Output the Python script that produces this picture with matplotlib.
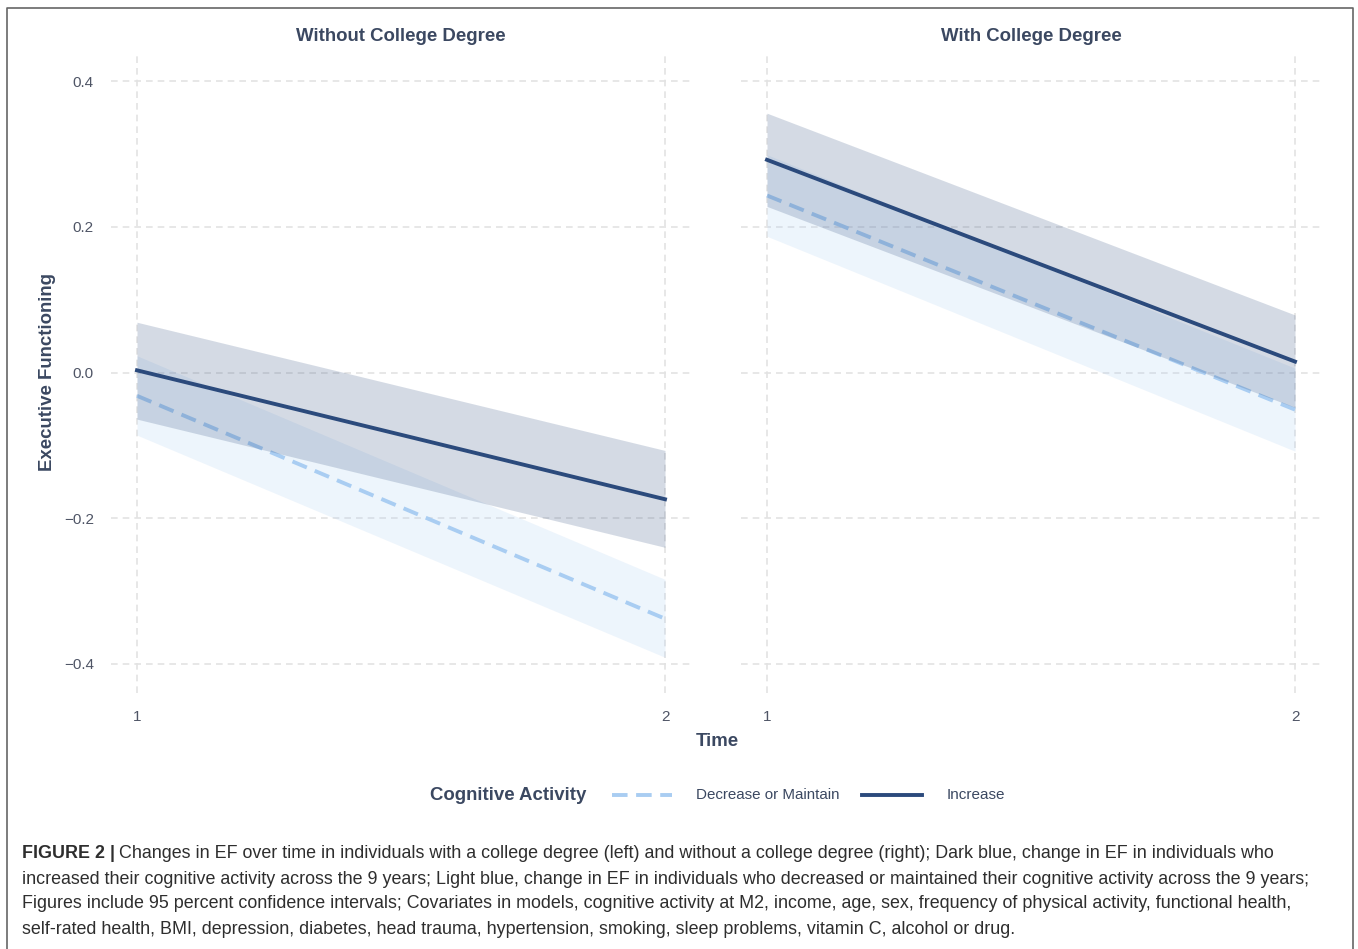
import matplotlib
matplotlib.use("Agg")
import matplotlib.pyplot as plt
from matplotlib.lines import Line2D

plt.rcParams['font.family'] = ['Liberation Sans', 'DejaVu Sans']

# ---- data ----
panels = ["Without College Degree", "With College Degree"]
time = [1, 2]
groups = ["Decrease or Maintain", "Increase"]
# per panel: fit, lower, upper
dec_fit = [[-0.032, -0.338], [0.243, -0.051]]
dec_lo = [[-0.086, -0.391], [0.187, -0.108]]
dec_hi = [[0.023, -0.284], [0.299, 0.006]]
inc_fit = [[0.003, -0.174], [0.292, 0.015]]
inc_lo = [[-0.064, -0.240], [0.228, -0.048]]
inc_hi = [[0.069, -0.107], [0.356, 0.079]]
yticks = [-0.4, -0.2, 0.0, 0.2, 0.4]
ytick_labels = ["\u22120.4", "\u22120.2", "0.0", "0.2", "0.4"]
xticks = [1, 2]

caption_bold = "FIGURE 2 |"
caption_lines = [
    "Changes in EF over time in individuals with a college degree (left) and without a college degree (right); Dark blue, change in EF in individuals who",
    "increased their cognitive activity across the 9 years; Light blue, change in EF in individuals who decreased or maintained their cognitive activity across the 9 years;",
    "Figures include 95 percent confidence intervals; Covariates in models, cognitive activity at M2, income, age, sex, frequency of physical activity, functional health,",
    "self-rated health, BMI, depression, diabetes, head trauma, hypertension, smoking, sleep problems, vitamin C, alcohol or drug.",
]

# ---- style ----
W, H = 1358, 949
DARK = "#2b4a7c"
LIGHT = "#a9cdf2"
TXT = "#3b4861"
TICK = "#4f5566"
GRID = "#e3e3e3"
DASH = (4, 2.2)

fig = plt.figure(figsize=(W / 100, H / 100), dpi=100)

def fx(px):
    return px / W

def fy(py):
    return 1 - py / H

ax_top, ax_bot = 52, 693
lefts = [110.6, 740.6]
pw = 580.8
axes = []
for i, L in enumerate(lefts):
    ax = fig.add_axes([fx(L), fy(ax_bot), pw / W, (ax_bot - ax_top) / H])
    axes.append(ax)
    ax.set_xlim(0.95, 2.05)
    ax.set_ylim(-0.44, 0.44)
    for s in ax.spines.values():
        s.set_visible(False)
    ax.set_xticks(xticks)
    ax.set_yticks(yticks)
    ax.grid(True, color=GRID, linestyle=(0, (4, 3)), linewidth=1.2)
    ax.set_axisbelow(True)
    ax.tick_params(length=0, labelsize=11, labelcolor=TICK)
    ax.tick_params(axis='x', pad=12)
    ax.tick_params(axis='y', pad=12)
    if i == 0:
        ax.set_yticklabels(ytick_labels)
    else:
        ax.set_yticklabels([])
    ax.set_title(panels[i], fontsize=13.4, fontweight='bold', color=TXT, pad=8)

    ax.fill_between(time, dec_lo[i], dec_hi[i], color=LIGHT, alpha=0.2, linewidth=0, zorder=2)
    ax.plot(time, dec_fit[i], color=LIGHT, lw=2.8, dashes=DASH, zorder=3)
    ax.fill_between(time, inc_lo[i], inc_hi[i], color=DARK, alpha=0.2, linewidth=0, zorder=4)
    ax.plot(time, inc_fit[i], color=DARK, lw=2.8, zorder=5)

fig.text(fx(48), fy(372), "Executive Functioning", rotation=90, ha='center', va='center',
         fontsize=13.4, fontweight='bold', color=TXT)
fig.text(fx(717), fy(741), "Time", ha='center', va='center',
         fontsize=13.4, fontweight='bold', color=TXT)

# legend
ly = fy(795)
fig.text(fx(430), ly, "Cognitive Activity", ha='left', va='center',
         fontsize=13.4, fontweight='bold', color=TXT)
fig.add_artist(Line2D([fx(612), fx(672)], [ly, ly], color=LIGHT, lw=2.8, dashes=DASH,
                      transform=fig.transFigure))
fig.text(fx(696), ly, groups[0], ha='left', va='center', fontsize=10.9, color=TXT)
fig.add_artist(Line2D([fx(862), fx(922)], [ly, ly], color=DARK, lw=2.8,
                      transform=fig.transFigure))
fig.text(fx(947), ly, groups[1], ha='left', va='center', fontsize=11, color=TXT)

# border
fig.add_artist(Line2D([fx(7), fx(7), fx(1353), fx(1353)], [0, fy(8), fy(8), 0],
                      color="#666666", lw=1.2, transform=fig.transFigure))

# caption
cap_fs = 12.9
cap_color = "#2e2e2e"
fig.canvas.draw()
renderer = fig.canvas.get_renderer()
tb = fig.text(fx(22), fy(854), caption_bold, ha='left', va='center',
              fontsize=cap_fs, fontweight='bold', color=cap_color)
bb = tb.get_window_extent(renderer)
fig.text(bb.x1 / W + 0.003, fy(854), caption_lines[0], ha='left', va='center',
         fontsize=cap_fs, color=cap_color)
for k, line in enumerate(caption_lines[1:]):
    fig.text(fx(22), fy(879 + 25 * k), line, ha='left', va='center',
             fontsize=cap_fs, color=cap_color)

fig.savefig("out.png", dpi=100)
